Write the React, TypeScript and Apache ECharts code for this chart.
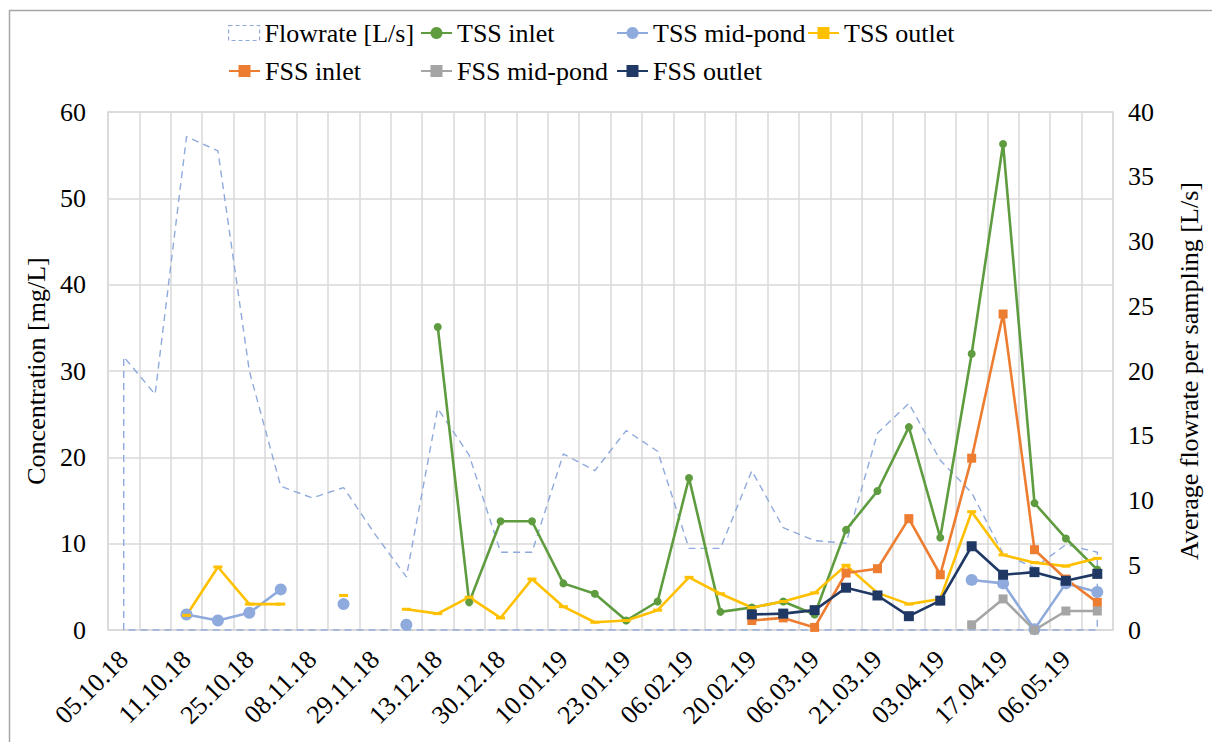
import React, { useEffect, useRef } from "react";
import * as echarts from "echarts";

const N = null;

// Visible tick labels (every other sampling date is labelled)
const tickLabels = [
  "05.10.18", "11.10.18", "25.10.18", "08.11.18", "29.11.18", "13.12.18",
  "30.12.18", "10.01.19", "23.01.19", "06.02.19", "20.02.19", "06.03.19",
  "21.03.19", "03.04.19", "17.04.19", "06.05.19",
];

// 32 samplings; unlabelled ones are blank
const categories: string[] = [];
tickLabels.forEach((l) => {
  categories.push(l);
  categories.push("");
});

const flowrate = [
  21.1, 18.2, 38.1, 37.0, 20.0, 11.1, 10.2, 11.0, 7.4, 4.1,
  17.1, 13.5, 6.0, 6.0, 13.6, 12.3, 15.4, 13.8, 6.3, 6.3,
  12.3, 7.9, 6.9, 6.7, 15.2, 17.5, 13.1, 10.6, 5.9, 4.8,
  6.6, 6.0,
];

const tssInlet = [
  N, N, N, N, N, N, N, N, N, N,
  35.1, 3.2, 12.6, 12.6, 5.4, 4.2, 1.1, 3.3, 17.6, 2.1,
  2.6, 3.3, 1.8, 11.6, 16.1, 23.5, 10.7, 32.0, 56.3, 14.7,
  10.6, 7.0,
];

const tssMid = [
  N, N, 1.8, 1.1, 2.0, 4.7, N, 3.0, N, 0.6,
  N, N, N, N, N, N, N, N, N, N,
  N, N, N, N, N, N, N, 5.8, 5.4, 0.1,
  5.4, 4.4,
];

const tssOutlet = [
  N, N, 1.7, 7.3, 3.0, 3.0, N, 4.0, N, 2.4,
  1.9, 3.8, 1.4, 5.9, 2.7, 0.9, 1.1, 2.3, 6.1, 4.2,
  2.6, 3.3, 4.3, 7.5, 4.3, 3.0, 3.6, 13.7, 8.7, 7.8,
  7.4, 8.3,
];

const fssInlet = [
  N, N, N, N, N, N, N, N, N, N,
  N, N, N, N, N, N, N, N, N, N,
  1.1, 1.4, 0.3, 6.6, 7.1, 12.9, 6.4, 19.9, 36.6, 9.3,
  5.9, 3.2,
];

const fssMid = [
  N, N, N, N, N, N, N, N, N, N,
  N, N, N, N, N, N, N, N, N, N,
  N, N, N, N, N, N, N, 0.6, 3.6, 0.0,
  2.2, 2.2,
];

const fssOutlet = [
  N, N, N, N, N, N, N, N, N, N,
  N, N, N, N, N, N, N, N, N, N,
  1.8, 1.9, 2.3, 4.9, 4.0, 1.6, 3.4, 9.7, 6.4, 6.7,
  5.7, 6.5,
];

const FONT = "Liberation Serif";
const FS = 26;
const GRID_COLOR = "#d9d9d9";

function lineSeries(
  name: string,
  data: (number | null)[],
  color: string,
  symbol: string,
  symbolSize: number | number[],
  width = 2.6
) {
  return {
    name,
    type: "line",
    data,
    yAxisIndex: 0,
    connectNulls: false,
    symbol,
    symbolSize,
    showSymbol: true,
    showAllSymbol: true,
    lineStyle: { color, width },
    itemStyle: { color, borderWidth: 0 },
    emphasis: { disabled: true },
    z: 3,
  };
}

export default function App() {
  const ref = useRef<HTMLDivElement>(null);

  useEffect(() => {
    if (!ref.current) return;
    const chart = echarts.init(ref.current, undefined, { renderer: "svg" });

    // area outline of flowrate (no fill, dashed border): down to 0 at both ends
    const last = flowrate.length - 1;
    const flowOutline: number[][] = [[0, 0]];
    flowrate.forEach((v, i) => flowOutline.push([i, v]));
    flowOutline.push([last, 0]);
    flowOutline.push([0, 0]);

    const legendNames = [
      "Flowrate [L/s]", "TSS inlet", "TSS mid-pond", "TSS outlet",
      "FSS inlet", "FSS mid-pond", "FSS outlet",
    ];
    const legendPos = [
      [228, 20], [420, 20], [616, 20], [807, 20],
      [228, 58], [420, 58], [616, 58],
    ];

    const legends = legendNames.map((name, k) => ({
      show: true,
      left: legendPos[k][0],
      top: legendPos[k][1],
      padding: 0,
      itemWidth: 31,
      itemHeight: 15,
      itemGap: 0,
      selectedMode: false,
      textStyle: { fontFamily: FONT, fontSize: FS, color: "#000" },
      data:
        k === 0
          ? [
              {
                name,
                icon: "rect",
                itemStyle: {
                  color: "rgba(255,255,255,0)",
                  borderColor: "#8FAADC",
                  borderWidth: 1.2,
                  borderType: [4, 3],
                },
              },
            ]
          : [name],
    }));

    const option: any = {
      animation: false,
      backgroundColor: "#fff",
      legend: legends,
      grid: {
        left: 108,
        right: 99,
        top: 112,
        bottom: 112,
        show: true,
        borderColor: GRID_COLOR,
        borderWidth: 1.5,
        containLabel: false,
        outerBoundsMode: "none",
      },
      xAxis: {
        type: "category",
        data: categories,
        boundaryGap: true,
        axisLine: { show: true, lineStyle: { color: GRID_COLOR, width: 1.5 } },
        axisTick: { show: false },
        axisLabel: {
          interval: 1,
          rotate: 45,
          fontFamily: FONT,
          fontSize: FS,
          color: "#000",
          margin: 25,
        },
        splitLine: {
          show: true,
          interval: 0,
          lineStyle: { color: GRID_COLOR, width: 1.5 },
        },
      },
      yAxis: [
        {
          type: "value",
          min: 0,
          max: 60,
          interval: 10,
          axisLine: { show: false },
          axisTick: { show: false },
          axisLabel: { fontFamily: FONT, fontSize: FS, color: "#000", margin: 22 },
          splitLine: { show: true, lineStyle: { color: GRID_COLOR, width: 1.5 } },
          name: "Concentration [mg/L]",
          nameLocation: "middle",
          nameGap: 53,
          nameTextStyle: { fontFamily: FONT, fontSize: FS, color: "#000" },
        },
        {
          type: "value",
          min: 0,
          max: 40,
          interval: 5,
          position: "right",
          axisLine: { show: false },
          axisTick: { show: false },
          axisLabel: { fontFamily: FONT, fontSize: FS, color: "#000", margin: 15 },
          splitLine: { show: false },
          name: "Average flowrate per sampling [L/s]",
          nameLocation: "middle",
          nameGap: 63,
          nameTextStyle: { fontFamily: FONT, fontSize: FS, color: "#000" },
        },
      ],
      graphic: [
        {
          type: "rect",
          left: 7,
          top: 8,
          shape: { width: 1400, height: 1000 },
          style: { fill: "none", stroke: "#a6a6a6", lineWidth: 1.5 },
          silent: true,
          z: -1,
        },
      ],
      series: [
        {
          name: "Flowrate [L/s]",
          type: "line",
          yAxisIndex: 1,
          data: flowOutline,
          symbol: "none",
          lineStyle: { color: "#8FAADC", width: 1.4, type: [7, 5] },
          itemStyle: { color: "#8FAADC" },
          emphasis: { disabled: true },
          z: 2,
        },
        lineSeries("TSS inlet", tssInlet, "#5E9C3F", "circle", 8),
        lineSeries("TSS mid-pond", tssMid, "#8FAADC", "circle", 12),
        lineSeries("TSS outlet", tssOutlet, "#FFC000", "rect", [9, 3]),
        lineSeries("FSS inlet", fssInlet, "#ED7D31", "rect", 9),
        lineSeries("FSS mid-pond", fssMid, "#A5A5A5", "rect", 9),
        lineSeries("FSS outlet", fssOutlet, "#203864", "rect", 10),
      ],
    };

    chart.setOption(option);
    return () => chart.dispose();
  }, []);

  return (
    <div
      ref={ref}
      style={{
        position: "fixed",
        left: 0,
        top: 0,
        width: 1212,
        height: 742,
        background: "#fff",
      }}
    />
  );
}
